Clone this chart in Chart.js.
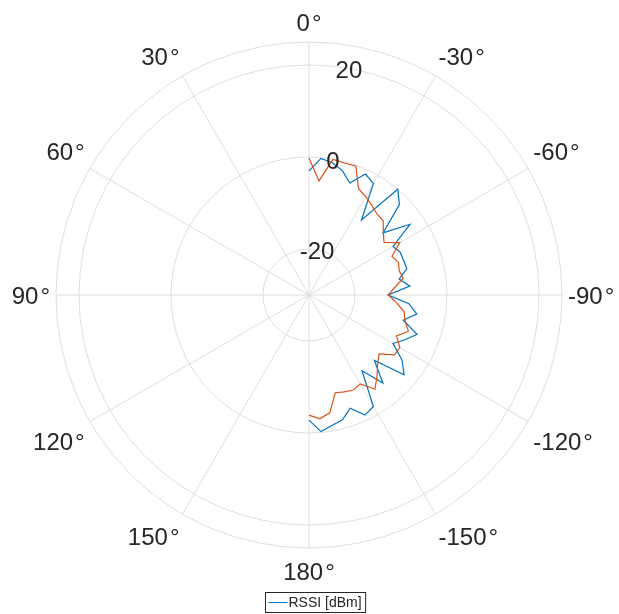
<!DOCTYPE html>
<html>
<head>
<meta charset="utf-8">
<script src="https://cdn.jsdelivr.net/npm/chart.js@4.4.1/dist/chart.umd.min.js"></script>
<style>
  html, body { margin: 0; padding: 0; background: #fff; }
  #wrap { position: relative; width: 619px; height: 614px; }
</style>
</head>
<body>
<div id="wrap"><canvas id="polar"></canvas></div>
<script>
/* ── Data ── */
// angular slots of the polar grid, clockwise from the top, 5 deg apart
const SLOTS = [
  0, 5, 10, 15, 20, 25, 30, 35, 40, 45, 50, 55, 60, 65, 70, 75, 80, 85,
  90, 95, 100, 105, 110, 115, 120, 125, 130, 135, 140, 145, 150, 155, 160, 165, 170, 175,
  180, 185, 190, 195, 200, 205, 210, 215, 220, 225, 230, 235, 240, 245, 250, 255, 260, 265,
  270, 275, 280, 285, 290, 295, 300, 305, 310, 315, 320, 325, 330, 335, 340, 345, 350, 355
];

// measured sweep: 0 .. -180 deg (right half), one value per slot
const RSSI_BLUE = [
  -3.0, -0.2, -0.8, -2.0, -4.1, -1.0, -2.0, -10.1, 0.0, -2.2,
  -9.0, -3.2, -8.9, -8.1, -8.1, -8.0, -10.1, -8.0, -12.8, -8.2,
  -6.2, -8.8, -5.0, -7.0, -8.9, -5.3, -3.0, -9.9, -5.0, -9.9,
  -2.0, -1.2, -3.8, -1.9, -1.2, -0.2, -2.8
];
const RSSI_ORANGE = [
  -0.2, -5.1, -0.1, -0.3, -0.2, -4.5, -5.3, -6.2, -7.0, -7.2,
  -8.9, -10.1, -7.2, -10.1, -9.3, -9.7, -9.2, -11.3, -12.8, -10.9,
  -9.0, -8.4, -7.0, -9.0, -7.2, -7.3, -10.1, -8.9, -7.0, -5.0,
  -7.7, -7.2, -7.6, -8.0, -4.0, -3.0, -3.9
];

const THETA_TICKS = [0, 30, 60, 90, 120, 150, 180, -150, -120, -90, -60, -30];
const R_TICKS = [-20, 0, 20];
const R_MIN = -30;
const R_MAX = 25;
const LEGEND_LABEL = 'RSSI [dBm]';

/* ── Style ── */
const BLUE = '#0072BD';
const ORANGE = '#D95319';
const GRID = '#dedede';
const TEXT = '#262626';
const FONT = '"Liberation Sans", Arial, Helvetica, sans-serif';

function padSlots(values) {
  return SLOTS.map((_, i) => (i < values.length ? values[i] : null));
}

/* ── Labels, r-tick labels and legend drawn on the radial scale ── */
const polarDecor = {
  id: 'polarDecor',
  afterDraw(chart) {
    const r = chart.scales.r;
    const ctx = chart.ctx;
    ctx.save();
    ctx.fillStyle = TEXT;
    ctx.font = '24px ' + FONT;
    ctx.textAlign = 'center';
    ctx.textBaseline = 'middle';

    // theta labels: box corner touches a circle slightly outside the edge
    const edge = r.drawingArea + 6;
    THETA_TICKS.forEach(a => {
      const idx = ((360 - a) % 360) / 5;
      const p = r.getPointPosition(idx, edge);
      const text = a + '\u200a°';
      const w = ctx.measureText(text).width;
      const dx = p.x - r.xCenter;
      const dy = p.y - r.yCenter;
      const sx = Math.abs(dx) < 1 ? 0 : Math.sign(dx);
      const sy = Math.abs(dy) < 1 ? 0 : Math.sign(dy);
      const oy = sy < 0 ? -12 : (sy > 0 ? 19 : 2);
      ctx.fillText(text, p.x + sx * w / 2, p.y + oy);
    });

    // r labels sit 10 deg clockwise of the top spoke
    R_TICKS.forEach(v => {
      const p = r.getPointPositionForValue(2, v);
      ctx.fillText(String(v), p.x, p.y + 3);
    });

    // legend (first series only)
    ctx.font = '14px ' + FONT;
    const tw = ctx.measureText(LEGEND_LABEL).width;
    const bw = tw + 27;
    const bx = Math.round(r.xCenter - 44) + 0.5;
    const by = chart.height - 22 + 0.5;
    ctx.fillStyle = '#fff';
    ctx.fillRect(bx, by, bw, 20);
    ctx.strokeStyle = TEXT;
    ctx.lineWidth = 1;
    ctx.strokeRect(bx, by, bw, 20);
    ctx.strokeStyle = BLUE;
    ctx.beginPath();
    ctx.moveTo(bx + 3, by + 10);
    ctx.lineTo(bx + 22, by + 10);
    ctx.stroke();
    ctx.fillStyle = TEXT;
    ctx.textAlign = 'left';
    ctx.fillText(LEGEND_LABEL, bx + 23, by + 10.5);
    ctx.restore();
  }
};

new Chart(document.getElementById('polar'), {
  type: 'radar',
  data: {
    labels: SLOTS,
    datasets: [
      { label: LEGEND_LABEL, data: padSlots(RSSI_BLUE), borderColor: BLUE, order: 1 },
      { label: 'RSSI 2', data: padSlots(RSSI_ORANGE), borderColor: ORANGE, order: 0 }
    ]
  },
  options: {
    responsive: true,
    maintainAspectRatio: false,
    animation: false,
    layout: { padding: { left: 56, right: 57, top: 42, bottom: 66 } },
    elements: {
      line: { borderWidth: 1.2, tension: 0, fill: false },
      point: { radius: 0, hoverRadius: 0 }
    },
    spanGaps: false,
    plugins: { legend: { display: false }, tooltip: { enabled: false } },
    scales: {
      r: {
        min: R_MIN,
        max: R_MAX,
        afterBuildTicks: s => { s.ticks = R_TICKS.concat([R_MAX]).map(v => ({ value: v })); },
        ticks: { display: false },
        pointLabels: { display: false },
        grid: { circular: true, color: GRID, lineWidth: 1 },
        angleLines: {
          color: GRID,
          lineWidth: c => (c.index % 6 === 0 ? 1 : 0)
        }
      }
    }
  },
  plugins: [polarDecor]
});
</script>
</body>
</html>
